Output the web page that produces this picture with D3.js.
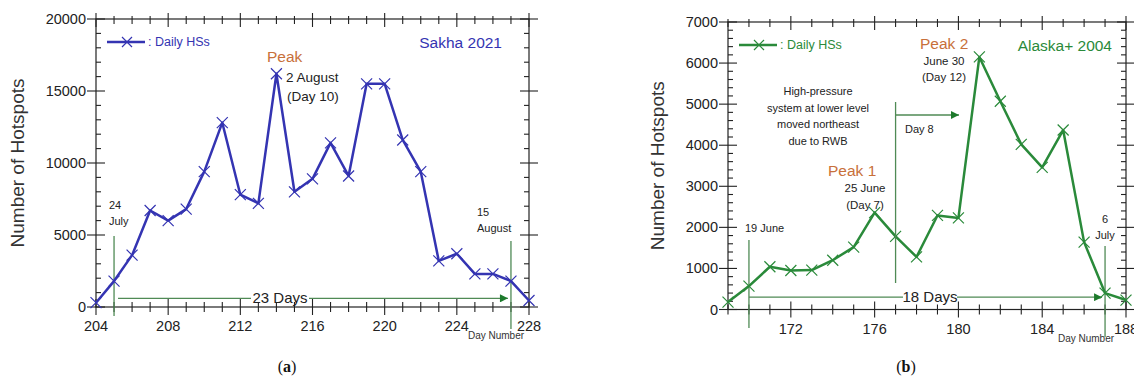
<!DOCTYPE html>
<html>
<head>
<meta charset="utf-8">
<script src="https://cdn.jsdelivr.net/npm/d3@7"></script>
<style>
  body { margin: 0; background: #fff; }
  svg text { font-family: "Liberation Sans", Arial, sans-serif; }
</style>
</head>
<body>
<svg id="chart" width="1134" height="381"></svg>
<script>
// ---- data: panel (a) Sakha 2021 ----
var sakhaDays = d3.range(204, 229);
var sakhaHS = [300, 1800, 3600, 6700, 6000, 6800, 9400, 12800, 7800, 7200, 16200, 8000, 8900,
  11400, 9100, 15500, 15500, 11600, 9400, 3200, 3700, 2300, 2300, 1800, 450];
var sakhaXTicks = [204, 208, 212, 216, 220, 224, 228];
var sakhaYTicks = [0, 5000, 10000, 15000, 20000];

// ---- data: panel (b) Alaska+ 2004 ----
var alaskaDays = d3.range(169, 189);
var alaskaHS = [180, 570, 1040, 950, 960, 1200, 1520, 2360, 1780, 1280, 2290, 2230, 6150,
  5070, 4020, 3460, 4370, 1640, 400, 230];
var alaskaXTicks = [172, 176, 180, 184, 188];
var alaskaYTicks = [0, 1000, 2000, 3000, 4000, 5000, 6000, 7000];

var svg = d3.select("#chart");
var annoGreen = "#4f8a55", arrowGreen = "#1d7a2c", peakOrange = "#c8703a";

var defs = svg.append("defs");
defs.append("marker").attr("id", "arrow").attr("viewBox", "0 0 10 10")
  .attr("refX", 10).attr("refY", 5).attr("markerWidth", 12).attr("markerHeight", 8)
  .attr("markerUnits", "userSpaceOnUse").attr("orient", "auto")
  .append("path").attr("d", "M0,0L10,5L0,10Z").attr("fill", arrowGreen);

function panel(o) {
  var x = d3.scaleLinear().domain(o.xDomain).range([o.left, o.right]);
  var y = d3.scaleLinear().domain(o.yDomain).range([o.bottom, o.top]);
  var g = svg.append("g");

  //frame
  g.append("rect").attr("x", o.left).attr("y", o.top)
    .attr("width", o.right - o.left).attr("height", o.bottom - o.top)
    .attr("fill", "none").attr("stroke", "#222").attr("stroke-width", 1.2);

  //ticks on all four sides
  var minorX = d3.range(Math.ceil(o.xDomain[0]), o.xDomain[1] + 1);
  minorX.forEach(function(d) {
    var major = o.xTicks.indexOf(d) >= 0;
    var len = major ? 8 : 5;
    g.append("line").attr("x1", x(d)).attr("x2", x(d))
      .attr("y1", o.bottom - len).attr("y2", o.bottom + (major ? 8 : 5))
      .attr("stroke", "#222").attr("stroke-width", 1.1);
    g.append("line").attr("x1", x(d)).attr("x2", x(d))
      .attr("y1", o.top - (major ? 6 : 3)).attr("y2", o.top + len)
      .attr("stroke", "#222").attr("stroke-width", 1.1);
  });
  var minorY = d3.range(o.yDomain[0], o.yDomain[1] + 1, o.yMinor);
  minorY.forEach(function(d) {
    var major = o.yTicks.indexOf(d) >= 0;
    g.append("line").attr("x1", o.left - (major ? 9 : 0)).attr("x2", o.left + (major ? 9 : 5))
      .attr("y1", y(d)).attr("y2", y(d)).attr("stroke", "#222").attr("stroke-width", 1.1);
    g.append("line").attr("x1", o.right - (major ? 9 : 5)).attr("x2", o.right + (major ? 9 : 0))
      .attr("y1", y(d)).attr("y2", y(d)).attr("stroke", "#222").attr("stroke-width", 1.1);
  });

  //tick labels
  g.selectAll(".xl").data(o.xTicks).enter().append("text")
    .attr("x", function(d) { return x(d); }).attr("y", o.bottom + 24)
    .attr("text-anchor", "middle").attr("font-size", 14.5).attr("fill", "#222")
    .text(function(d) { return d; });
  g.selectAll(".yl").data(o.yTicks).enter().append("text")
    .attr("x", o.left - 10).attr("y", function(d) { return y(d) + 5; })
    .attr("text-anchor", "end").attr("font-size", 14.5).attr("fill", "#222")
    .text(function(d) { return d; });

  //axis titles
  g.append("text").attr("transform", "translate(" + o.yTitleX + "," + ((o.top + o.bottom) / 2) + ") rotate(-90)")
    .attr("text-anchor", "middle").attr("font-size", 19).attr("fill", "#333").text("Number of Hotspots");
  g.append("text").attr("x", o.dnX).attr("y", o.bottom + 32).attr("text-anchor", "middle")
    .attr("font-size", 10).attr("fill", "#333").text("Day Number");
  g.append("text").attr("x", o.subX).attr("y", 372).attr("text-anchor", "middle")
    .attr("font-size", 16).attr("fill", "#111")
    .style("font-family", "'Liberation Serif', serif")
    .html("(<tspan font-weight='bold'>" + o.sub + "</tspan>)");

  //annotation lines: start/end markers and duration arrow
  var yArrow = y(o.arrowVal);
  [o.start, o.end].forEach(function(s) {
    g.append("line").attr("x1", x(s.day)).attr("x2", x(s.day))
      .attr("y1", s.y1).attr("y2", s.y2).attr("stroke", annoGreen).attr("stroke-width", 1.3);
    s.lines.forEach(function(t, i) {
      g.append("text").attr("x", s.tx).attr("y", s.ty + i * 16).attr("text-anchor", s.anchor)
        .attr("font-size", 11).attr("fill", "#222").text(t);
    });
  });
  g.append("line").attr("x1", x(o.start.day) + o.arrowPad).attr("x2", o.labelX - o.labelHalf)
    .attr("y1", yArrow).attr("y2", yArrow).attr("stroke", annoGreen).attr("stroke-width", 1.3);
  g.append("line").attr("x1", o.labelX + o.labelHalf).attr("x2", x(o.end.day) - o.arrowGap)
    .attr("y1", yArrow).attr("y2", yArrow).attr("stroke", annoGreen).attr("stroke-width", 1.3)
    .attr("marker-end", "url(#arrow)");
  g.append("text").attr("x", o.labelX).attr("y", yArrow + 5).attr("text-anchor", "middle")
    .attr("font-size", 15).attr("fill", "#222").text(o.durLabel);

  //data line
  var pts = o.days.map(function(d, i) { return [d, o.values[i]]; });
  var line = d3.line().x(function(d) { return x(d[0]); }).y(function(d) { return y(d[1]); });
  g.append("path").attr("d", line(pts)).attr("fill", "none")
    .attr("stroke", o.color).attr("stroke-width", 2.5).attr("stroke-linejoin", "round");
  var r = 5.5;
  g.selectAll(".mk").data(pts).enter().append("path")
    .attr("d", function(d) {
      var cx = x(d[0]), cy = y(d[1]);
      return "M" + (cx - r) + "," + (cy - r) + "L" + (cx + r) + "," + (cy + r) +
        "M" + (cx - r) + "," + (cy + r) + "L" + (cx + r) + "," + (cy - r);
    })
    .attr("stroke", o.color).attr("stroke-width", 1.2).attr("fill", "none");

  //legend
  var lx = o.left + o.legDx, ly = o.top + 23;
  g.append("line").attr("x1", lx).attr("x2", lx + 38).attr("y1", ly).attr("y2", ly)
    .attr("stroke", o.color).attr("stroke-width", 2.4);
  g.append("path").attr("d", "M" + (lx + 15) + "," + (ly - 5) + "L" + (lx + 25) + "," + (ly + 5) +
    "M" + (lx + 15) + "," + (ly + 5) + "L" + (lx + 25) + "," + (ly - 5))
    .attr("stroke", o.color).attr("stroke-width", 1.2);
  g.append("text").attr("x", lx + 41).attr("y", ly + 4).attr("font-size", 12.5)
    .attr("fill", o.color).text(": Daily HSs");

  //title
  g.append("text").attr("x", o.titleX).attr("y", o.top + 29).attr("text-anchor", "end")
    .attr("font-size", 15.5).attr("fill", o.color).text(o.title);

  return { x: x, y: y, g: g };
}

// ---- panel (a) ----
var pa = panel({
  left: 96, right: 529, top: 19, bottom: 307,
  xDomain: [204, 228], yDomain: [0, 20000], yMinor: 1000,
  xTicks: sakhaXTicks, yTicks: sakhaYTicks,
  days: sakhaDays, values: sakhaHS, color: "#3434b2",
  yTitleX: 24, subX: 287, sub: "a", dnX: 496,
  title: "Sakha 2021", titleX: 502, legDx: 11,
  arrowVal: 600, arrowPad: 4, arrowGap: 3, labelX: 280, labelHalf: 29, durLabel: "23 Days",
  start: { day: 205, y1: 236, y2: 316, lines: ["24", "July"], tx: 109, ty: 209, anchor: "start" },
  end: { day: 227, y1: 241, y2: 329, lines: ["15", "August"], tx: 477, ty: 216, anchor: "start" }
});
pa.g.append("text").attr("x", 267).attr("y", 62).attr("font-size", 15.5).attr("fill", peakOrange).text("Peak");
pa.g.append("text").attr("x", 286).attr("y", 82).attr("font-size", 13.5).attr("fill", "#222").text("2 August");
pa.g.append("text").attr("x", 287).attr("y", 101).attr("font-size", 13.5).attr("fill", "#222").text("(Day 10)");

// ---- panel (b) ----
var pb = panel({
  left: 728, right: 1126, top: 22, bottom: 309.5,
  xDomain: [169, 188], yDomain: [0, 7000], yMinor: 200,
  xTicks: alaskaXTicks, yTicks: alaskaYTicks,
  days: alaskaDays, values: alaskaHS, color: "#2a8a3a",
  yTitleX: 664, subX: 906, sub: "b", dnX: 1086,
  title: "Alaska+ 2004", titleX: 1112, legDx: 11,
  arrowVal: 300, arrowPad: 0, arrowGap: 3, labelX: 930, labelHalf: 27, durLabel: "18 Days",
  start: { day: 170, y1: 240, y2: 328, lines: ["19 June"], tx: 745, ty: 232, anchor: "start" },
  end: { day: 187, y1: 246, y2: 337, lines: ["6", "July"], tx: 1105, ty: 223, anchor: "middle" }
});
pb.g.append("text").attr("x", 920).attr("y", 49).attr("font-size", 15.5).attr("fill", peakOrange).text("Peak 2");
pb.g.append("text").attr("x", 944).attr("y", 65).attr("text-anchor", "middle").attr("font-size", 11.5).attr("fill", "#222").text("June 30");
pb.g.append("text").attr("x", 944).attr("y", 81).attr("text-anchor", "middle").attr("font-size", 11.5).attr("fill", "#222").text("(Day 12)");
["High-pressure", "system at lower level", "moved northeast", "due to RWB"].forEach(function(t, i) {
  pb.g.append("text").attr("x", 818).attr("y", 95 + i * 16.5).attr("text-anchor", "middle")
    .attr("font-size", 11).attr("fill", "#222").text(t);
});
pb.g.append("line").attr("x1", pb.x(177)).attr("x2", pb.x(177)).attr("y1", 102).attr("y2", 283)
  .attr("stroke", annoGreen).attr("stroke-width", 1.3);
pb.g.append("line").attr("x1", pb.x(177)).attr("x2", 959).attr("y1", 115).attr("y2", 115)
  .attr("stroke", annoGreen).attr("stroke-width", 1.3).attr("marker-end", "url(#arrow)");
pb.g.append("text").attr("x", 905).attr("y", 133).attr("font-size", 11).attr("fill", "#222").text("Day 8");
pb.g.append("text").attr("x", 828).attr("y", 176).attr("font-size", 15.5).attr("fill", peakOrange).text("Peak 1");
pb.g.append("text").attr("x", 865).attr("y", 192).attr("text-anchor", "middle").attr("font-size", 11.5).attr("fill", "#222").text("25 June");
pb.g.append("text").attr("x", 865).attr("y", 209).attr("text-anchor", "middle").attr("font-size", 11.5).attr("fill", "#222").text("(Day 7)");
</script>
</body>
</html>
